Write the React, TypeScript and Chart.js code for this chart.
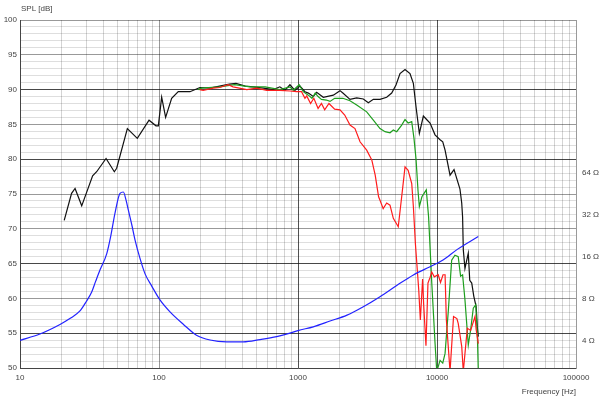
import React, { useEffect, useRef } from "react";
import { Chart, registerables } from "chart.js";

Chart.register(...registerables);

// ---- Data ----
const blackFreq = [20.8, 23.5, 24.9, 27.8, 33.3, 35.6, 41.6, 47.7, 49.6, 59.2, 69.8, 84.8, 95.1, 98.9, 104.5, 111.6, 123.3, 137.6, 167, 197, 232, 273, 321, 358, 417, 476, 564, 664, 740, 805, 875, 950, 1033, 1122, 1187, 1288, 1362, 1521, 1795, 2005, 2103, 2366, 2644, 2951, 3206, 3483, 3890, 4345, 4721, 5070, 5418, 5888, 6393, 6760, 7067, 7464, 7980, 8518, 8913, 9680, 10520, 11000, 11430, 12410, 13260, 14630, 15060, 15280, 15460, 15890, 16790, 17200, 17780, 18400, 19140, 19500, 19820];
const blackSpl = [71.2, 75.1, 75.8, 73.3, 77.6, 78.2, 80.1, 78.2, 78.7, 84.4, 83.0, 85.6, 84.8, 84.8, 88.9, 86.0, 88.75, 89.7, 89.7, 90.3, 90.2, 90.5, 90.8, 90.9, 90.5, 90.4, 90.2, 90.0, 90.4, 89.9, 90.7, 89.9, 90.5, 89.7, 89.5, 89.0, 89.6, 88.9, 89.2, 89.85, 89.5, 88.6, 88.8, 88.65, 88.1, 88.6, 88.6, 88.9, 89.5, 90.66, 92.3, 92.9, 92.3, 90.9, 87.5, 83.7, 86.2, 85.6, 85.2, 83.5, 82.8, 82.5, 81.3, 77.7, 78.5, 75.7, 73.7, 71.7, 67.0, 64.3, 66.5, 62.6, 62.2, 60.3, 58.8, 55.9, 54.5];

const redFreq = [196, 208, 245, 273, 314, 341, 428, 505, 596, 740, 875, 974, 1060, 1122, 1155, 1232, 1300, 1395, 1475, 1556, 1670, 1835, 2005, 2168, 2366, 2570, 2794, 3120, 3394, 3593, 3800, 3890, 4100, 4345, 4590, 4850, 5263, 5571, 5888, 6200, 6580, 6760, 6990, 7390, 7590, 7880, 8010, 8330, 8610, 8910, 9170, 9560, 10200, 10600, 11050, 11430, 11680, 12410, 13150, 13900, 14210, 15060, 15460, 16520, 17460, 18770, 19140, 19820];
const redSpl = [90.0, 89.9, 90.2, 90.3, 90.7, 90.4, 90.0, 90.2, 89.9, 89.9, 89.8, 89.7, 89.7, 88.75, 89.1, 88.0, 88.75, 87.3, 88.0, 87.1, 88.0, 87.2, 87.1, 86.35, 84.9, 84.4, 82.5, 81.3, 79.9, 77.7, 74.6, 74.1, 72.9, 73.7, 73.4, 71.5, 70.3, 74.6, 78.9, 78.4, 76.5, 73.2, 67.9, 61.2, 56.9, 62.8, 59.3, 53.2, 62.2, 63.0, 63.8, 63.1, 63.4, 62.3, 63.4, 63.4, 56.9, 49.5, 57.4, 57.1, 56.4, 53.1, 49.5, 55.7, 55.4, 57.4, 55.5, 53.5];

const greenFreq = [190, 202, 273, 349, 453, 580, 740, 875, 925, 1020, 1090, 1187, 1260, 1330, 1395, 1475, 1600, 1700, 1835, 2103, 2366, 2644, 3120, 3483, 3890, 4230, 4590, 4850, 5130, 5571, 5888, 6200, 6580, 6830, 7067, 7300, 7464, 7790, 8375, 8700, 9170, 9680, 9960, 10520, 11000, 11430, 12070, 12750, 13460, 14210, 14780, 15280, 15890, 16790, 17460, 18240, 18990, 19500, 19820];
const greenSpl = [90.0, 90.2, 90.4, 90.7, 90.4, 90.4, 90.0, 90.4, 89.9, 90.7, 89.7, 89.2, 88.75, 89.5, 89.0, 88.6, 88.5, 88.3, 88.75, 88.75, 88.4, 87.8, 86.8, 85.6, 84.4, 83.95, 83.8, 84.2, 83.95, 84.9, 85.7, 85.2, 85.4, 83.0, 80.0, 75.5, 73.2, 74.6, 75.6, 71.7, 62.2, 53.6, 49.5, 51.1, 50.7, 52.1, 58.3, 65.5, 66.2, 66.0, 63.2, 63.4, 59.8, 53.3, 55.5, 58.6, 59.1, 55.0, 49.5];

const impFreq = [10, 13.9, 19.4, 23, 27, 30, 32.8, 35, 37.6, 42.1, 45, 48.2, 52.4, 55.4, 58, 60.2, 64, 67.2, 73, 79.4, 88.7, 101.6, 120, 150, 186, 233, 307, 404, 533, 703, 875, 1000, 1288, 1700, 2253, 2951, 3890, 5130, 6760, 8910, 11050, 14000, 19820];
const impOhm = [4.0, 4.44, 5.2, 5.75, 6.5, 7.6, 8.9, 10.6, 12.8, 16.8, 22.5, 32.6, 45.5, 46.5, 40.5, 34.4, 26.5, 21.1, 15.5, 12.0, 9.8, 7.8, 6.4, 5.2, 4.35, 4.02, 3.9, 3.9, 4.05, 4.25, 4.5, 4.7, 5.0, 5.5, 6.07, 6.97, 8.23, 9.9, 11.8, 13.5, 15.1, 18.0, 22.3];

const freqTickLabels = [10, 100, 1000, 10000, 100000];
const splTickLabels = [50, 55, 60, 65, 70, 75, 80, 85, 90, 95, 100];
const impTickLabels = [4, 8, 16, 32, 64];
const darkSplLines = [90, 80, 65, 55];

const pts = (f: number[], v: number[]) => f.map((x, i) => ({ x, y: v[i] }));

export default function App() {
  const ref = useRef<HTMLCanvasElement | null>(null);

  useEffect(() => {
    if (!ref.current) return;
    Chart.defaults.font.family = '"Liberation Sans", Arial, sans-serif';
    Chart.defaults.font.size = 8;
    Chart.defaults.color = "#444";

    const xGrid: number[] = [];
    for (let d = 10; d < 100000; d *= 10) for (let m = 1; m < 10; m++) xGrid.push(m * d);
    xGrid.push(100000);

    const isDecade = (v: number) => {
      const l = Math.log10(v);
      return Math.abs(l - Math.round(l)) < 1e-9;
    };

    const titlePlugin = {
      id: "splTitle",
      afterDraw(chart: any) {
        const { ctx, chartArea } = chart;
        ctx.save();
        ctx.font = '8px "Liberation Sans", Arial, sans-serif';
        ctx.fillStyle = "#444";
        ctx.textAlign = "left";
        ctx.textBaseline = "middle";
        ctx.fillText("SPL [dB]", chartArea.left + 1, chartArea.top - 11);
        ctx.restore();
      },
    };

    const mk = (label: string, data: any, color: string, axis = "y", smooth = false) => ({
      label,
      data,
      borderColor: color,
      backgroundColor: color,
      borderWidth: 1.2,
      pointRadius: 0,
      tension: smooth ? 0.4 : 0,
      cubicInterpolationMode: smooth ? "monotone" : "default",
      fill: false,
      yAxisID: axis,
    });

    const chart = new Chart(ref.current, {
      type: "line",
      data: {
        datasets: [
          mk("Impedance", pts(impFreq, impOhm), "#2323ff", "y1", true),
          mk("Red", pts(redFreq, redSpl), "#ff1c1c"),
          mk("Green", pts(greenFreq, greenSpl), "#1e9e1e"),
          mk("Black", pts(blackFreq, blackSpl), "#111111"),
        ],
      },
      options: {
        animation: false,
        responsive: false,
        layout: { padding: { top: 20, left: 0, right: 0, bottom: 0 } },
        plugins: {
          legend: { display: false },
          tooltip: { enabled: false },
        },
        scales: {
          x: {
            type: "logarithmic",
            min: 10,
            max: 100000,
            afterBuildTicks: (s: any) => {
              s.ticks = xGrid.map((v) => ({ value: v }));
            },
            afterFit: (s: any) => {
              s.height = 34;
            },
            ticks: {
              autoSkip: false,
              maxRotation: 0,
              minRotation: 0,
              padding: 5,
              color: "#444",
              callback: (v: any) => (freqTickLabels.includes(Number(v)) ? String(v) : ""),
            },
            grid: {
              drawTicks: false,
              lineWidth: 1,
              color: (c: any) => {
                const v = c.tick ? c.tick.value : 0;
                if (!isDecade(v)) return "rgba(0,0,0,0.17)";
                if (v === 1000 || v === 10000) return "rgba(0,0,0,0.68)";
                return "rgba(0,0,0,0.4)";
              },
            },
            border: { display: true, color: "#444" },
            title: {
              display: true,
              text: "Frequency [Hz]",
              align: "end",
              color: "#444",
              font: { size: 8 },
              padding: { top: 0, bottom: 5 },
            },
          },
          y: {
            type: "linear",
            min: 50,
            max: 100,
            afterFit: (s: any) => {
              s.width = 20;
            },
            ticks: {
              stepSize: 1,
              autoSkip: false,
              padding: 3,
              color: "#444",
              callback: (v: any) => (splTickLabels.includes(Number(v)) ? String(v) : ""),
            },
            grid: {
              drawTicks: false,
              lineWidth: 1,
              color: (c: any) => {
                const v = c.tick ? c.tick.value : 0;
                if (darkSplLines.includes(v)) return "rgba(0,0,0,0.72)";
                if (v % 5 === 0) return "rgba(0,0,0,0.4)";
                return "rgba(0,0,0,0.13)";
              },
            },
            border: { display: true, color: "#444" },
          },
          y1: {
            type: "logarithmic",
            position: "right",
            min: 8 * Math.pow(10, -0.5),
            max: 800,
            afterBuildTicks: (s: any) => {
              s.ticks = impTickLabels.map((v) => ({ value: v }));
            },
            afterFit: (s: any) => {
              s.width = 24;
            },
            ticks: {
              autoSkip: false,
              padding: 6,
              color: "#444",
              callback: (v: any) => `${v} Ω`,
            },
            grid: { display: false, drawTicks: false },
            border: { display: true, color: "#9a9a9a" },
          },
        },
      },
      plugins: [titlePlugin],
    } as any);

    return () => chart.destroy();
  }, []);

  return (
    <div style={{ position: "absolute", left: 0, top: 0, width: 600, height: 402, background: "#fff" }}>
      <canvas ref={ref} width={600} height={402} style={{ display: "block" }} />
    </div>
  );
}
